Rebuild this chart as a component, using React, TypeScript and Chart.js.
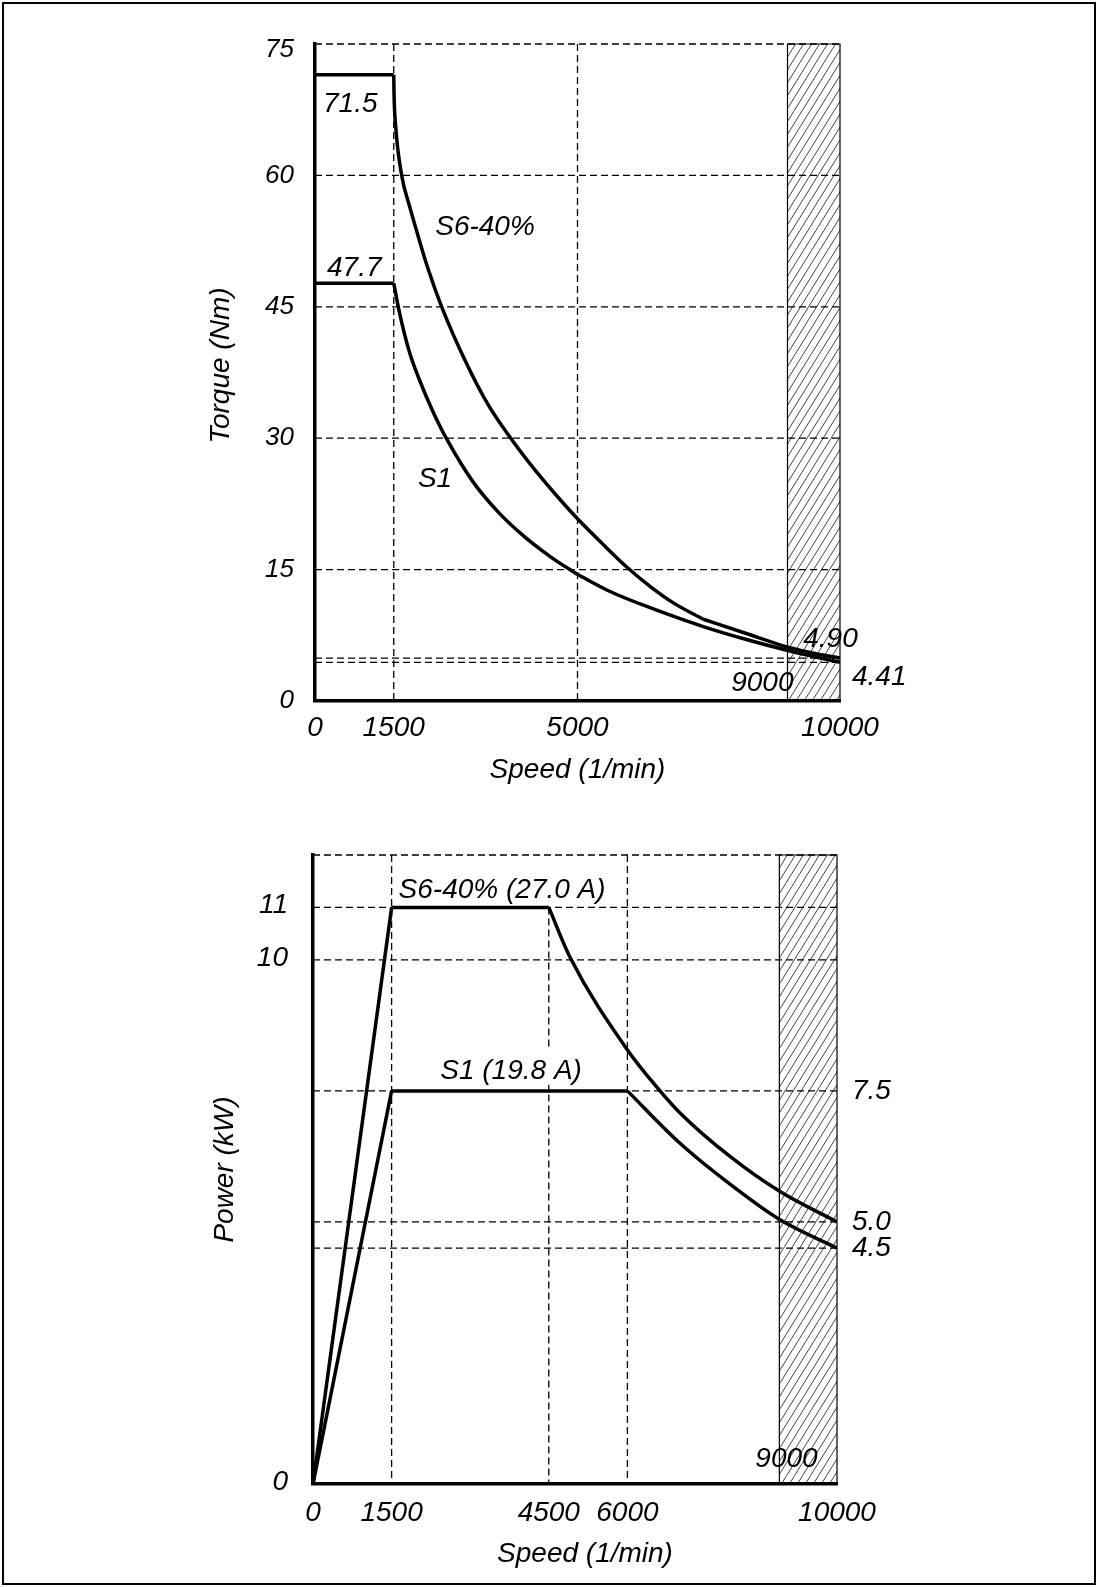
import React, { useEffect, useRef } from "react";
import { Chart, registerables } from "chart.js";

Chart.register(...registerables);

// ---------------- Torque chart data ----------------
const torqueXTicks = [0, 1500, 5000, 10000];
const torqueYTicks = [0, 15, 30, 45, 60, 75];
const torqueGridX = [1500, 5000];
const torqueGridY = [4.41, 4.9, 15, 30, 45, 60, 75];
const torqueHatch = [9000, 10000];

const torqueS6FlatSpeed = [0, 1500];
const torqueS6FlatValue = [71.5, 71.5];
const torqueS6CurveSpeed = [1500, 1505, 1537, 1651, 1800, 1924, 2150, 2413, 2857, 3300, 3777, 4200, 4667, 5000, 5500, 5937, 6400, 6825, 7396];
const torqueS6CurveValue = [71.5, 69.4, 65.6, 60.0, 56.5, 53.9, 49.4, 45.0, 38.9, 33.8, 29.6, 26.3, 23.0, 20.8, 17.8, 15.3, 13.0, 11.2, 9.33];
const torqueS6TailSpeed = [7396, 8200, 8952, 9500, 10000];
const torqueS6TailValue = [9.33, 7.73, 6.24, 5.45, 4.9];

const torqueS1FlatSpeed = [0, 1500];
const torqueS1FlatValue = [47.7, 47.7];
const torqueS1CurveSpeed = [1500, 1600, 1800, 2000, 2250, 2500, 3000, 3500, 4000, 4500, 4985];
const torqueS1CurveValue = [47.7, 44.6, 39.8, 36.5, 33.0, 30.0, 25.1, 21.5, 18.7, 16.4, 14.5];
const torqueS1TailSpeed = [4985, 5619, 6495, 7396, 8200, 8952, 10000];
const torqueS1TailValue = [14.5, 12.5, 10.4, 8.5, 7.05, 5.85, 4.41];

// ---------------- Power chart data ----------------
const powerXTicks = [0, 1500, 4500, 6000, 10000];
const powerYTicksLeft = [0, 10, 11];
const powerYTicksRight = [4.5, 5.0, 7.5];
const powerGridX = [1500, 4500, 6000];
const powerGridXTop = [12, 11, 12];
const powerGridY = [4.5, 5.0, 7.5, 10, 11, 12];
const powerHatch = [8900, 10000];

const powerS6RiseSpeed = [0, 1500];
const powerS6RiseValue = [0, 11];
const powerS6FlatSpeed = [1500, 4500];
const powerS6FlatValue = [11, 11];
const powerS6CurveSpeed = [4500, 4905, 5987, 6622, 7004, 7958, 8912, 10000];
const powerS6CurveValue = [11, 10.05, 8.3, 7.5, 7.08, 6.25, 5.58, 5.0];

const powerS1RiseSpeed = [0, 1500];
const powerS1RiseValue = [0, 7.5];
const powerS1FlatSpeed = [1500, 6000];
const powerS1FlatValue = [7.5, 7.5];
const powerS1CurveSpeed = [6000, 7004, 7958, 8912, 10000];
const powerS1CurveValue = [7.5, 6.5, 5.72, 5.04, 4.5];

// ---------------- helpers ----------------
const FONT = '"Liberation Sans", Arial, Helvetica, sans-serif';
const DASH = [7, 4];

function pts(xs: number[], ys: number[]) {
  return xs.map((x, i) => ({ x, y: ys[i] }));
}

function ds(xs: number[], ys: number[], curve: boolean) {
  return {
    data: pts(xs, ys),
    borderColor: "#000",
    borderWidth: 3.5,
    pointRadius: 0,
    fill: false,
    tension: curve ? 0.4 : 0,
    cubicInterpolationMode: curve ? "monotone" : "default",
    borderCapStyle: "butt",
    borderJoinStyle: "miter",
  } as any;
}

function text(
  ctx: CanvasRenderingContext2D,
  t: string,
  x: number,
  y: number,
  size: number,
  align: CanvasTextAlign = "left",
  baseline: CanvasTextBaseline = "alphabetic",
  rotate = 0
) {
  ctx.save();
  ctx.font = `italic ${size}px ${FONT}`;
  ctx.fillStyle = "#000";
  ctx.textAlign = align;
  ctx.textBaseline = baseline;
  ctx.translate(x, y);
  if (rotate) ctx.rotate(rotate);
  ctx.fillText(t, 0, 0);
  ctx.restore();
}

function dashed(ctx: CanvasRenderingContext2D, x0: number, y0: number, x1: number, y1: number) {
  ctx.save();
  ctx.strokeStyle = "#000";
  ctx.lineWidth = 1.3;
  ctx.setLineDash(DASH);
  ctx.beginPath();
  ctx.moveTo(x0, y0);
  ctx.lineTo(x1, y1);
  ctx.stroke();
  ctx.restore();
}

function hatch(ctx: CanvasRenderingContext2D, x0: number, x1: number, y0: number, y1: number) {
  ctx.save();
  ctx.beginPath();
  ctx.rect(x0, y0, x1 - x0, y1 - y0 - 2);
  ctx.clip();
  ctx.strokeStyle = "#444";
  ctx.lineWidth = 1;
  const h = y1 - y0;
  const slope = 0.62;
  ctx.beginPath();
  for (let x = x0 - h * slope; x < x1 + 10; x += 8) {
    ctx.moveTo(x, y1);
    ctx.lineTo(x + h * slope, y0);
  }
  ctx.stroke();
  ctx.restore();
  ctx.save();
  ctx.strokeStyle = "#000";
  ctx.lineWidth = 1.2;
  ctx.beginPath();
  ctx.moveTo(x0, y1);
  ctx.lineTo(x0, y0);
  ctx.lineTo(x1, y0);
  ctx.lineTo(x1, y1);
  ctx.stroke();
  ctx.restore();
}

function baseOptions(padding: any) {
  const axis = (min: number, max: number) => ({
    type: "linear",
    min,
    max,
    ticks: { display: false },
    grid: { display: false, drawTicks: false, tickLength: 0 },
    border: { display: true, color: "#000", width: 3.5 },
  });
  return {
    animation: false,
    responsive: false,
    devicePixelRatio: 1,
    events: [],
    layout: { padding },
    plugins: { legend: { display: false }, tooltip: { enabled: false } },
    scales: { x: axis(0, 10000), y: axis(0, 0) },
  } as any;
}

// ---------------- plugins ----------------
const torquePlugin = {
  id: "torqueDecor",
  beforeDatasetsDraw(chart: any) {
    const { ctx, chartArea: a, scales } = chart;
    const x = scales.x, y = scales.y;
    hatch(ctx, x.getPixelForValue(torqueHatch[0]), x.getPixelForValue(torqueHatch[1]), a.top, a.bottom);
    torqueGridY.forEach((v) => {
      const py = y.getPixelForValue(v);
      dashed(ctx, a.left, py, a.right, py);
    });
    torqueGridX.forEach((v) => {
      const px = x.getPixelForValue(v);
      dashed(ctx, px, a.top, px, a.bottom);
    });
  },
  afterDatasetsDraw(chart: any) {
    const { ctx, chartArea: a, scales } = chart;
    const x = scales.x, y = scales.y;
    const x0 = x.getPixelForValue(0);
    const y0 = y.getPixelForValue(0);
    torqueYTicks.forEach((v) => {
      text(ctx, String(v), x0 - 21, Math.max(y.getPixelForValue(v), a.top + 6), 26, "right", "middle");
    });
    torqueXTicks.forEach((v) => {
      text(ctx, String(v), x.getPixelForValue(v), y0 + 35, 28, "center");
    });
    text(ctx, "Speed (1/min)", (a.left + a.right) / 2, y0 + 77, 28, "center");
    text(ctx, "Torque (Nm)", a.left - 86, (a.top + a.bottom) / 2 - 7, 28, "center", "alphabetic", -Math.PI / 2);
    text(ctx, "71.5", x0 + 8, y.getPixelForValue(71.5) + 37, 28);
    text(ctx, "47.7", x0 + 12, y.getPixelForValue(47.7) - 7, 28);
    text(ctx, "S6-40%", x.getPixelForValue(2290), y.getPixelForValue(53.2), 28);
    text(ctx, "S1", x.getPixelForValue(1960), y.getPixelForValue(24.4), 28);
    text(ctx, "4.90", x.getPixelForValue(9300), y.getPixelForValue(4.9) - 11, 28);
    text(ctx, "4.41", x.getPixelForValue(10000) + 12, y.getPixelForValue(4.41) + 23, 28);
    text(ctx, "9000", x.getPixelForValue(9000) + 6, y0 - 10, 28, "right");
  },
};

const powerPlugin = {
  id: "powerDecor",
  beforeDatasetsDraw(chart: any) {
    const { ctx, chartArea: a, scales } = chart;
    const x = scales.x, y = scales.y;
    hatch(ctx, x.getPixelForValue(powerHatch[0]), x.getPixelForValue(powerHatch[1]), a.top, a.bottom);
    powerGridY.forEach((v) => {
      const py = y.getPixelForValue(v);
      dashed(ctx, a.left, py, a.right, py);
    });
    powerGridX.forEach((v, i) => {
      const px = x.getPixelForValue(v);
      dashed(ctx, px, y.getPixelForValue(powerGridXTop[i]), px, a.bottom);
    });
    // white box behind the S1 label
    ctx.save();
    ctx.font = `italic 28px ${FONT}`;
    const w = ctx.measureText("S1 (19.8 A)").width;
    const cx = x.getPixelForValue(3780);
    const by = y.getPixelForValue(7.5) - 12;
    ctx.fillStyle = "#fff";
    ctx.fillRect(cx - w / 2 - 4, by - 30, w + 8, 36);
    ctx.restore();
  },
  afterDatasetsDraw(chart: any) {
    const { ctx, chartArea: a, scales } = chart;
    const x = scales.x, y = scales.y;
    const x0 = x.getPixelForValue(0);
    const x1 = x.getPixelForValue(10000);
    const y0 = y.getPixelForValue(0);
    powerYTicksLeft.forEach((v) => {
      text(ctx, String(v), x0 - 25, y.getPixelForValue(v) - 2, 28, "right", "middle");
    });
    powerYTicksRight.forEach((v) => {
      text(ctx, v.toFixed(1), x1 + 15, y.getPixelForValue(v), 28, "left", "middle");
    });
    powerXTicks.forEach((v) => {
      text(ctx, String(v), x.getPixelForValue(v), y0 + 37, 28, "center");
    });
    text(ctx, "Speed (1/min)", (a.left + a.right) / 2 + 10, y0 + 78, 28, "center");
    text(ctx, "Power (kW)", a.left - 80, (a.top + a.bottom) / 2, 28, "center", "alphabetic", -Math.PI / 2);
    text(ctx, "S6-40% (27.0 A)", x.getPixelForValue(1500) + 7, y.getPixelForValue(11) - 9, 28);
    text(ctx, "S1 (19.8 A)", x.getPixelForValue(3780), y.getPixelForValue(7.5) - 12, 28, "center");
    text(ctx, "9000", x.getPixelForValue(9000) + 33, y0 - 17, 28, "right");
  },
};

function torqueConfig() {
  const options = baseOptions({ left: 315, right: 258, top: 44, bottom: 99 });
  options.scales.y.max = 75;
  return {
    type: "line",
    data: {
      datasets: [
        ds(torqueS6FlatSpeed, torqueS6FlatValue, false),
        ds(torqueS6CurveSpeed, torqueS6CurveValue, true),
        ds(torqueS6TailSpeed, torqueS6TailValue, true),
        ds(torqueS1FlatSpeed, torqueS1FlatValue, false),
        ds(torqueS1CurveSpeed, torqueS1CurveValue, true),
        ds(torqueS1TailSpeed, torqueS1TailValue, true),
      ],
    },
    options,
    plugins: [torquePlugin],
  } as any;
}

function powerConfig() {
  const options = baseOptions({ left: 313, right: 261, top: 55, bottom: 103 });
  options.scales.y.max = 12;
  return {
    type: "line",
    data: {
      datasets: [
        ds(powerS6RiseSpeed, powerS6RiseValue, false),
        ds(powerS6FlatSpeed, powerS6FlatValue, false),
        ds(powerS6CurveSpeed, powerS6CurveValue, true),
        ds(powerS1RiseSpeed, powerS1RiseValue, false),
        ds(powerS1FlatSpeed, powerS1FlatValue, false),
        ds(powerS1CurveSpeed, powerS1CurveValue, true),
      ],
    },
    options,
    plugins: [powerPlugin],
  } as any;
}

export default function App() {
  const topRef = useRef<HTMLCanvasElement>(null);
  const botRef = useRef<HTMLCanvasElement>(null);

  useEffect(() => {
    const c1 = new Chart(topRef.current as HTMLCanvasElement, torqueConfig());
    const c2 = new Chart(botRef.current as HTMLCanvasElement, powerConfig());
    return () => {
      c1.destroy();
      c2.destroy();
    };
  }, []);

  return (
    <div style={{ position: "absolute", left: 0, top: 0, width: 1098, height: 1587, background: "#fff" }}>
      <div
        style={{
          position: "absolute",
          left: 2,
          top: 2,
          width: 1094,
          height: 1583,
          border: "2px solid #000",
          boxSizing: "border-box",
        }}
      />
      <canvas ref={topRef} width={1098} height={800} style={{ position: "absolute", left: 0, top: 0, display: "block" }} />
      <canvas ref={botRef} width={1098} height={787} style={{ position: "absolute", left: 0, top: 800, display: "block" }} />
    </div>
  );
}
